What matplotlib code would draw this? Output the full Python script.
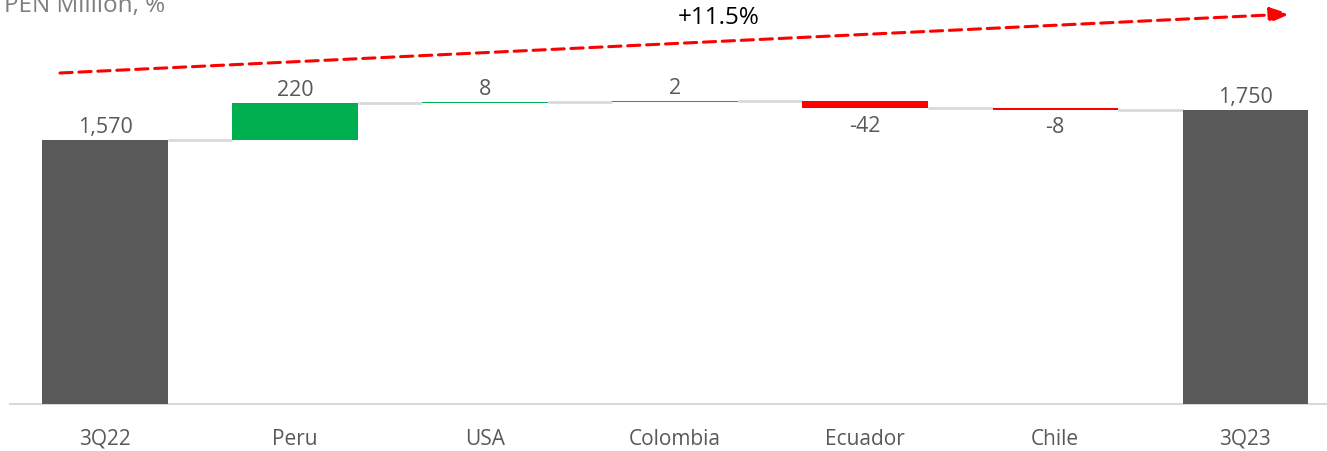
import matplotlib.pyplot as plt
import numpy as np

# Data
categories = ['3Q22', 'Peru', 'USA', 'Colombia', 'Ecuador', 'Chile', '3Q23']
start_value = 1570
changes = [220, 8, 2, -42, -8]
end_value = 1750
growth_label = '+11.5%'
unit_label = 'PEN Million, %'

# Colors
c_total = '#595959'
c_up = '#00b050'
c_down = '#ff0000'
c_conn = '#d9d9d9'
c_text = '#595959'

plt.rcParams['font.family'] = ['Open Sans', 'DejaVu Sans']

fig = plt.figure(figsize=(13.27, 4.51), dpi=100)
ax = fig.add_axes([10 / 1327, 1 - 404 / 451, 1317 / 1327, 404 / 451])

x = np.arange(len(categories))
width = 0.66

# running totals
levels = [start_value]
for c in changes:
    levels.append(levels[-1] + c)

bottoms = [0]
heights = [start_value]
colors = [c_total]
for i, c in enumerate(changes):
    if c >= 0:
        bottoms.append(levels[i])
        colors.append(c_up)
    else:
        bottoms.append(levels[i + 1])
        colors.append(c_down)
    heights.append(abs(c))
bottoms.append(0)
heights.append(end_value)
colors.append(c_total)

ax.bar(x, heights, bottom=bottoms, width=width, color=colors, zorder=3)

# connectors between bars
conn_levels = levels + [end_value]
for i in range(len(categories) - 1):
    ax.plot([x[i] + width / 2, x[i + 1] - width / 2], [conn_levels[i], conn_levels[i]],
            color=c_conn, lw=2, zorder=2, solid_capstyle='butt')

# value labels
fs = 15.5
ax.text(x[0], start_value + 42, f'{start_value:,}', ha='center', va='baseline', fontsize=fs, color=c_text)
for i, c in enumerate(changes):
    top = bottoms[i + 1] + heights[i + 1]
    if c >= 0:
        ax.text(x[i + 1], top + 42, f'{c:,}', ha='center', va='baseline', fontsize=fs, color=c_text)
    else:
        ax.text(x[i + 1], bottoms[i + 1] - 140, f'{c:,}', ha='center', va='baseline', fontsize=fs, color=c_text)
ax.text(x[-1], end_value + 42, f'{end_value:,}', ha='center', va='baseline', fontsize=fs, color=c_text)

# growth arrow
ax.annotate('', xy=(1290 / 1327, 1 - 14 / 451), xycoords='figure fraction',
            xytext=(60 / 1327, 1 - 73 / 451), textcoords='figure fraction',
            arrowprops=dict(arrowstyle='-|>,head_length=1.2,head_width=0.45', color=c_down,
                            lw=2.2, linestyle=(0, (4, 2.2)), shrinkA=0, shrinkB=0))
fig.text(719 / 1327, 1 - 18 / 451, growth_label, ha='center', va='center', fontsize=17.5, color='black')

# unit label (partially cut off at top, as in the source)
fig.text(4 / 1327, 1 - 12 / 451, unit_label, ha='left', va='baseline', fontsize=17.5, color='#7f7f7f')

ax.set_xlim(-0.5, 6.43)
ax.set_ylim(0, 2403)
ax.set_xticks(x)
ax.set_xticklabels(categories, fontsize=15, color=c_text)
ax.tick_params(axis='x', length=0, pad=18)
ax.set_yticks([])
for s in ['top', 'right', 'left']:
    ax.spines[s].set_visible(False)
ax.spines['bottom'].set_color('#d9d9d9')
ax.spines['bottom'].set_linewidth(1.5)

fig.savefig('out.png', dpi=100)
